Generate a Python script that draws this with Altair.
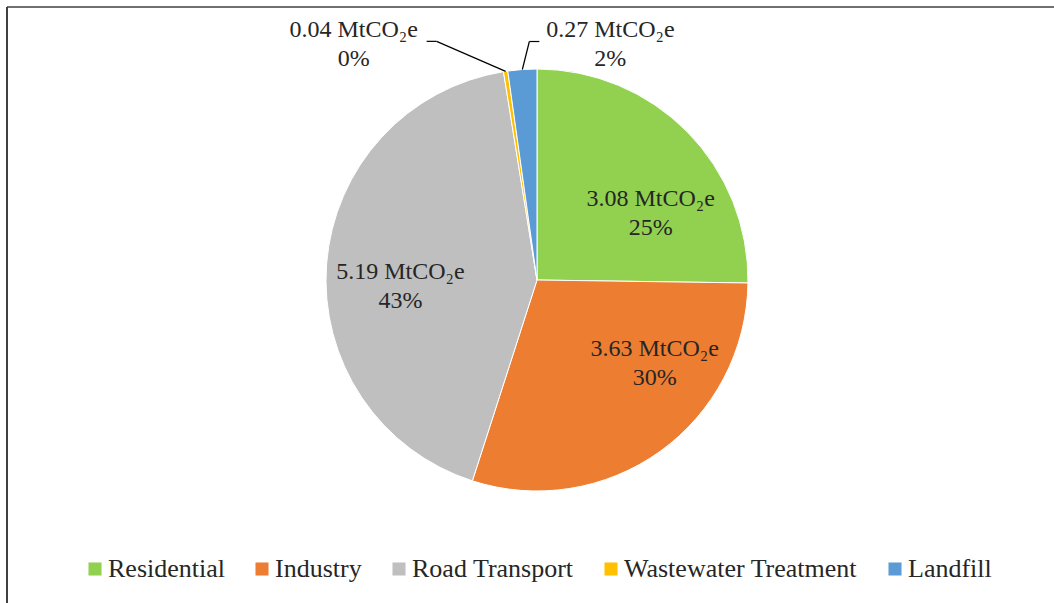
import altair as alt
import pandas as pd

# ---- data ----
categories = ["Residential", "Industry", "Road Transport", "Wastewater Treatment", "Landfill"]
emissions = [3.08, 3.63, 5.19, 0.04, 0.27]          # MtCO2e
percent_labels = ["25%", "30%", "43%", "0%", "2%"]
colors = ["#92D050", "#ED7D31", "#BFBFBF", "#FFC000", "#5B9BD5"]

df = pd.DataFrame({
    "category": categories,
    "value": emissions,
    "pct": percent_labels,
    "idx": list(range(len(categories))),
})
df["label"] = [f"{v:.2f} MtCO\u2082e\n{p}" for v, p in zip(emissions, percent_labels)]

# ---- layout ----
W, H = 1054, 603
CX, CY, R = 537, 280, 211
FONT = "'Liberation Serif', 'Times New Roman', Times, 'DejaVu Serif', serif"
TXT = "#262626"
LH = 29
HALF = LH / 2
LFS = 24

base = alt.Chart(df)

pie = base.mark_arc(outerRadius=R, stroke="white", strokeWidth=1).encode(
    theta=alt.Theta("value:Q", stack=True),
    order=alt.Order("idx:Q"),
    color=alt.Color(
        "category:N",
        scale=alt.Scale(domain=categories, range=colors),
        legend=alt.Legend(
            orient="none", legendX=82, legendY=556, direction="horizontal",
            title=None, symbolType="square", symbolSize=170, symbolStrokeWidth=0,
            labelFont=FONT, labelFontSize=26, labelColor=TXT, labelOffset=0,
            columnPadding=24, padding=0, labelLimit=400,
        ),
    ),
    x=alt.value(CX), y=alt.value(CY),
)

def inner_label(cat, dx, dy):
    return base.mark_text(
        radius=140, font=FONT, fontSize=LFS, color=TXT, lineBreak="\n",
        lineHeight=LH, align="center", baseline="middle", dx=dx, dy=dy - HALF,
    ).encode(
        theta=alt.Theta("value:Q", stack=True),
        order=alt.Order("idx:Q"),
        text="label:N",
        x=alt.value(CX), y=alt.value(CY),
        opacity=alt.condition(alt.datum.category == cat, alt.value(1), alt.value(0)),
    )

pos = (
    base.transform_window(cum="sum(value)", sort=[alt.SortField("idx")], frame=[None, 0])
    .transform_joinaggregate(total="sum(value)")
    .transform_calculate(mid="2*PI*(datum.cum - datum.value/2)/datum.total")
    .transform_calculate(ex=f"{CX} + {R}*sin(datum.mid)", ey=f"{CY} - {R}*cos(datum.mid)")
)

def outer_label(cat, dx, dy, elbow, end):
    p = pos.transform_filter(alt.datum.category == cat)
    txt = p.mark_text(
        font=FONT, fontSize=LFS, color=TXT, lineBreak="\n", lineHeight=LH,
        align="center", baseline="middle", dx=dx, dy=dy - HALF,
    ).encode(
        x=alt.X("ex:Q", scale=None), y=alt.Y("ey:Q", scale=None), text="label:N",
    )
    seg1 = p.transform_calculate(
        x2=f"datum.ex + ({elbow[0]})", y2=f"datum.ey + ({elbow[1]})"
    ).mark_rule(color="#000000", strokeWidth=1.2).encode(
        x=alt.X("ex:Q", scale=None), y=alt.Y("ey:Q", scale=None), x2="x2:Q", y2="y2:Q",
    )
    seg2 = p.transform_calculate(
        xa=f"datum.ex + ({elbow[0]})", ya=f"datum.ey + ({elbow[1]})",
        xb=f"datum.ex + ({end[0]})", yb=f"datum.ey + ({end[1]})",
    ).mark_rule(color="#000000", strokeWidth=1.2).encode(
        x=alt.X("xa:Q", scale=None), y=alt.Y("ya:Q", scale=None), x2="xb:Q", y2="yb:Q",
    )
    return seg1 + seg2 + txt

frame_df = pd.DataFrame({"k": [0]})
frame_top = alt.Chart(frame_df).mark_rule(color="#707070", strokeWidth=2).encode(
    x=alt.value(7), x2=alt.value(W + 10), y=alt.value(7))
frame_left = alt.Chart(frame_df).mark_rule(color="#404040", strokeWidth=2).encode(
    x=alt.value(7), y=alt.value(7), y2=alt.value(H + 10))

chart = alt.layer(
    pie,
    inner_label("Residential", 14, 32),
    inner_label("Industry", 36, -30),
    inner_label("Road Transport", 3, 17),
    outer_label("Wastewater Treatment", -152, -27, (-69, -30), (-79, -30)),
    outer_label("Landfill", 88, -25, (7, -28), (17, -28)),
    frame_top,
    frame_left,
).properties(
    width=W, height=H, padding=0, background="white",
    autosize=alt.AutoSizeParams(type="none"),
).configure_view(stroke=None)

chart.save("out.html", embed_options={"renderer": "svg", "actions": False})
